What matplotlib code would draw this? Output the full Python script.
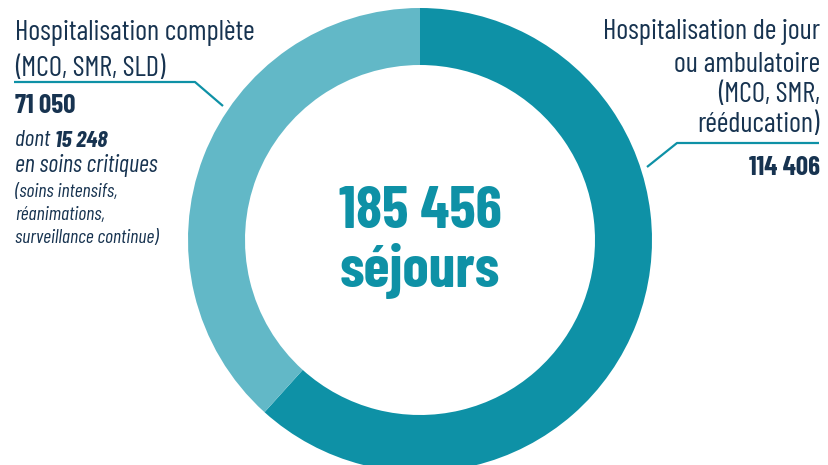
import matplotlib
matplotlib.use('Agg')
import matplotlib.pyplot as plt

# chart data
segments = ['Hospitalisation de jour ou ambulatoire', 'Hospitalisation complète']
values = [114406, 71050]
critical_care = 15248
unit = 'séjours'

right_lines = ['Hospitalisation de jour', 'ou ambulatoire', '(MCO, SMR,', 'rééducation)']
left_lines = ['Hospitalisation complète', '(MCO, SMR, SLD)']
left_note = ['en soins critiques']
left_small = ['(soins intensifs,', 'réanimations,', 'surveillance continue)']

W, H = 829, 465
FONT = 'Barlow Condensed'
NAVY = '#173350'
DARK = '#0e91a6'
LIGHT = '#62b8c7'


def fmt(n):
    return f"{n:,}".replace(",", " ")


def put(x, y, s, **kw):
    # y is given from the top of the picture, like the reference
    kw.setdefault('color', NAVY)
    kw.setdefault('family', FONT)
    return ax.text(x, H - y, s, va='baseline', **kw)


fig = plt.figure(figsize=(W / 100, H / 100), dpi=100)
ax = fig.add_axes([0, 0, 1, 1])

ax.pie(values, colors=[DARK, LIGHT], startangle=90, counterclock=False,
       radius=232, center=(420, H - 240),
       wedgeprops=dict(width=57, linewidth=0))
ax.set_xlim(0, W)
ax.set_ylim(0, H)
ax.set_aspect('equal')
ax.axis('off')

# centre total
put(420, 228, fmt(sum(values)), ha='center', fontsize=43, weight='bold', color=DARK)
put(420, 287, unit, ha='center', fontsize=43, weight='bold', color=DARK)

# left label
for y, s in zip([40, 76], left_lines):
    put(15, y, s, fontsize=20.5)
ax.plot([14, 195, 223], [H - 82, H - 82, H - 106], color=DARK, lw=1.6, solid_capstyle='butt')
put(15, 113, fmt(values[1]), fontsize=19.5, weight='bold')
t = put(15, 146, 'dont ', fontsize=17, style='italic')
ax.annotate(fmt(critical_care), xy=(1, 0), xycoords=t, va='bottom', ha='left',
            fontsize=17, style='italic', weight='bold', color=NAVY, family=FONT)
put(15, 172, left_note[0], fontsize=17.5, style='italic')
for y, s in zip([197, 220, 243], left_small):
    put(15, y, s, fontsize=14.2, style='italic')

# right label
for y, s in zip([39, 72, 102, 132], right_lines):
    put(820, y, s, ha='right', fontsize=20.5)
ax.plot([819, 677, 647], [H - 143, H - 143, H - 167], color=DARK, lw=1.6, solid_capstyle='butt')
put(820, 175, fmt(values[0]), ha='right', fontsize=19.5, weight='bold')

fig.savefig('out.png', dpi=100)
